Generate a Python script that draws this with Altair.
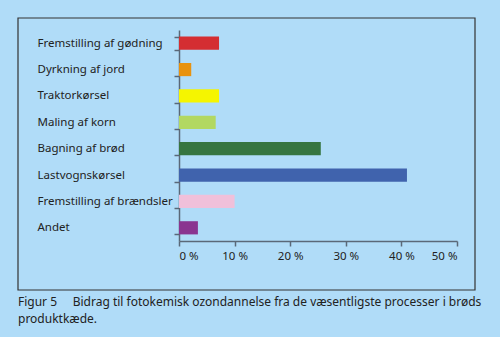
import altair as alt
import pandas as pd

categories = ["Fremstilling af gødning", "Dyrkning af jord", "Traktorkørsel", "Maling af korn",
              "Bagning af brød", "Lastvognskørsel", "Fremstilling af brændsler", "Andet"]
values = [7.2, 2.2, 7.2, 6.6, 25.5, 41.0, 10.0, 3.4]
colors = ["#d42e32", "#e8920f", "#f5f500", "#b2d862", "#367540", "#4063ad", "#f0c0da", "#8a3590"]
x_ticks = [0, 10, 20, 30, 40, 50]
caption_1 = "Figur 5\u00a0\u00a0\u00a0\u00a0\u00a0Bidrag til fotokemisk ozondannelse fra de væsentligste processer i brøds"
caption_2 = "produktkæde."

df = pd.DataFrame({"cat": categories, "val": values})
one = pd.DataFrame({"k": [0]})

bars = alt.Chart(df).mark_bar().encode(
    x=alt.X("val:Q", scale=alt.Scale(domain=[0, 50], nice=False),
            axis=alt.Axis(values=x_ticks, title=None, labelExpr="datum.value + ' %'",
                          grid=False, domain=True, domainColor="#5a6878", domainWidth=1.5,
                          tickColor="#5a6878", tickSize=5, tickWidth=1.5,
                          labelFontSize=11.5, labelColor="#222222", labelPadding=4,
                          labelFont="Noto Sans")),
    y=alt.Y("cat:N", sort=categories, scale=alt.Scale(paddingInner=0.5, paddingOuter=0.25),
            axis=alt.Axis(title=None, tickBand="extent", domainColor="#5a6878", domainWidth=1.5,
                          tickColor="#5a6878", tickSize=5, tickWidth=1.5,
                          labelAlign="left", labelPadding=137, labelLimit=200,
                          labelFontSize=11.5, labelColor="#222222", labelFont="Noto Sans")),
    color=alt.Color("cat:N", sort=categories,
                    scale=alt.Scale(domain=categories, range=colors), legend=None),
)

frame = alt.Chart(one).mark_rect(fill=None, stroke="#333333", strokeWidth=1.2, clip=False).encode(
    x=alt.value(-161), x2=alt.value(296), y=alt.value(-12), y2=alt.value(260)
)

cap_style = dict(align="left", baseline="alphabetic", fontSize=12, font="Noto Sans",
                 color="#222222", clip=False)
cap1 = alt.Chart(one).mark_text(**cap_style).encode(
    x=alt.value(-161), y=alt.value(276), text=alt.value(caption_1))
cap2 = alt.Chart(one).mark_text(**cap_style).encode(
    x=alt.value(-161), y=alt.value(293), text=alt.value(caption_2))

chart = alt.layer(frame, bars, cap1, cap2).properties(
    width=278, height=211,
    autosize=alt.AutoSizeParams(type="none"),
    padding={"left": 179, "top": 30, "right": 43, "bottom": 96},
).configure(background="#b0dcf8").configure_view(stroke=None)

chart.save("out.html", embed_options={"renderer": "svg", "actions": False})
